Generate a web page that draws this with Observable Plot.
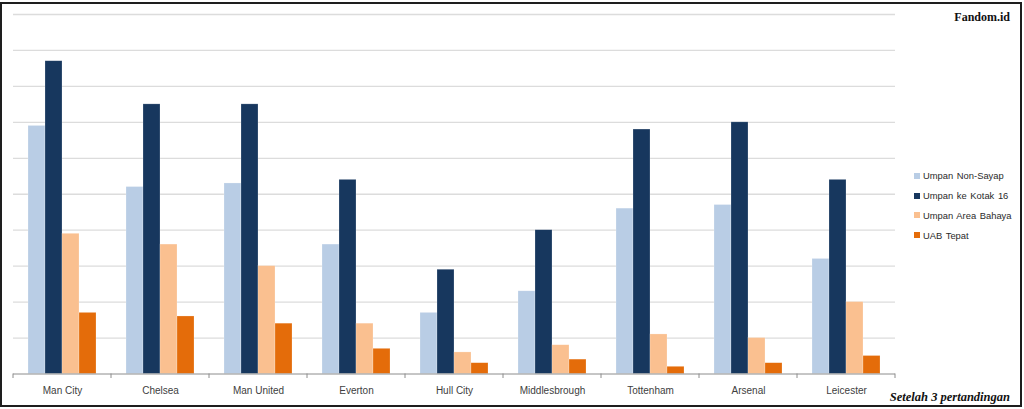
<!DOCTYPE html>
<html>
<head>
<meta charset="utf-8">
<script src="https://cdn.jsdelivr.net/npm/d3@7"></script>
<script src="https://cdn.jsdelivr.net/npm/@observablehq/plot@0.6"></script>
<style>
  html, body { margin: 0; padding: 0; background: #fff; }
  #wrap { position: relative; width: 1024px; height: 409px; overflow: hidden; }
  #frame { position: absolute; left: 0; top: 2px; width: 1022px; height: 405px; box-sizing: border-box; border: 2px solid #1e1e1e; }
  #chart { position: absolute; left: 0; top: 0; }
  #legend { position: absolute; left: 914px; top: 166px; font-family: "Liberation Sans", Arial, sans-serif; font-size: 9.4px; color: #2a2a2a; }
  #legend .item { height: 19.8px; display: flex; align-items: center; white-space: pre; word-spacing: 1px; }
  #legend .sw { width: 6px; height: 6px; margin-right: 3px; }
  #brand { position: absolute; right: 14px; top: 10px; font-family: "Liberation Serif", "Times New Roman", serif; font-weight: bold; font-size: 12px; color: #111; }
  #note { position: absolute; right: 14px; top: 390px; font-family: "Liberation Serif", "Times New Roman", serif; font-weight: bold; font-style: italic; font-size: 12.5px; color: #111; }
</style>
</head>
<body>
<div id="wrap">
  <div id="chart"></div>
  <div id="frame"></div>
  <div id="brand">Fandom.id</div>
  <div id="legend"></div>
  <div id="note">Setelah 3 pertandingan</div>
</div>
<script>
const teams = ["Man City", "Chelsea", "Man United", "Everton", "Hull City", "Middlesbrough", "Tottenham", "Arsenal", "Leicester"];
const seriesNames = ["Umpan Non-Sayap", "Umpan ke Kotak 16", "Umpan Area Bahaya", "UAB Tepat"];
const colors = ["#B9CDE5", "#17375E", "#FAC090", "#E46C0A"];
const umpanNonSayap = [69, 52, 53, 36, 17, 23, 46, 47, 32];
const umpanKotak16 = [87, 75, 75, 54, 29, 40, 68, 70, 54];
const umpanAreaBahaya = [39, 36, 30, 14, 6, 8, 11, 10, 20];
const uabTepat = [17, 16, 14, 7, 3, 4, 2, 3, 5];
const gridTicks = [0, 10, 20, 30, 40, 50, 60, 70, 80, 90, 100];

const seriesValues = [umpanNonSayap, umpanKotak16, umpanAreaBahaya, uabTepat];
const data = [];
teams.forEach((t, i) => seriesNames.forEach((s, j) => data.push({team: t, series: s, value: seriesValues[j][i]})));

const W = 1024, H = 409;
const plot = Plot.plot({
  width: W,
  height: H,
  marginLeft: 12,
  marginRight: 128,
  marginTop: 14,
  marginBottom: 35.5,
  style: {background: "transparent", fontFamily: "'Liberation Sans', Arial, sans-serif", fontSize: "10px", color: "#404040"},
  fx: {domain: teams, padding: 0, label: null},
  x: {domain: seriesNames, paddingInner: 0, paddingOuter: 0.78, axis: null},
  y: {domain: [0, 100], axis: null},
  color: {domain: seriesNames, range: colors},
  marks: [
    Plot.ruleY(gridTicks.slice(1), {stroke: "#dcdcdc", strokeWidth: 1.3}),
    Plot.barY(data, {fx: "team", x: "series", y: "value", fill: "series", stroke: "#ffffff", strokeOpacity: 0.35, strokeWidth: 0.6}),
    Plot.ruleY([0], {stroke: "#8c8c8c", strokeWidth: 1}),
    Plot.axisFx({anchor: "bottom", tickSize: 0, tickPadding: 13, label: null, fill: "#404040", fontSize: 10})
  ]
});
document.getElementById("chart").appendChild(plot);

// boundary tick marks on the category axis, from the library's fx and y scales
const fx = plot.scale("fx");
const yS = plot.scale("y");
const y0 = yS.apply(0);
const bounds = teams.map(t => fx.apply(t));
bounds.push(fx.apply(teams[teams.length - 1]) + fx.step);
d3.select(plot).append("g")
  .selectAll("line").data(bounds).join("line")
  .attr("x1", d => d).attr("x2", d => d)
  .attr("y1", y0).attr("y2", y0 + 4.5)
  .attr("stroke", "#8c8c8c").attr("stroke-width", 1);

const legend = d3.select("#legend");
seriesNames.forEach((s, i) => {
  const it = legend.append("div").attr("class", "item");
  it.append("div").attr("class", "sw").style("background", colors[i]);
  it.append("span").text(s);
});
</script>
</body>
</html>
